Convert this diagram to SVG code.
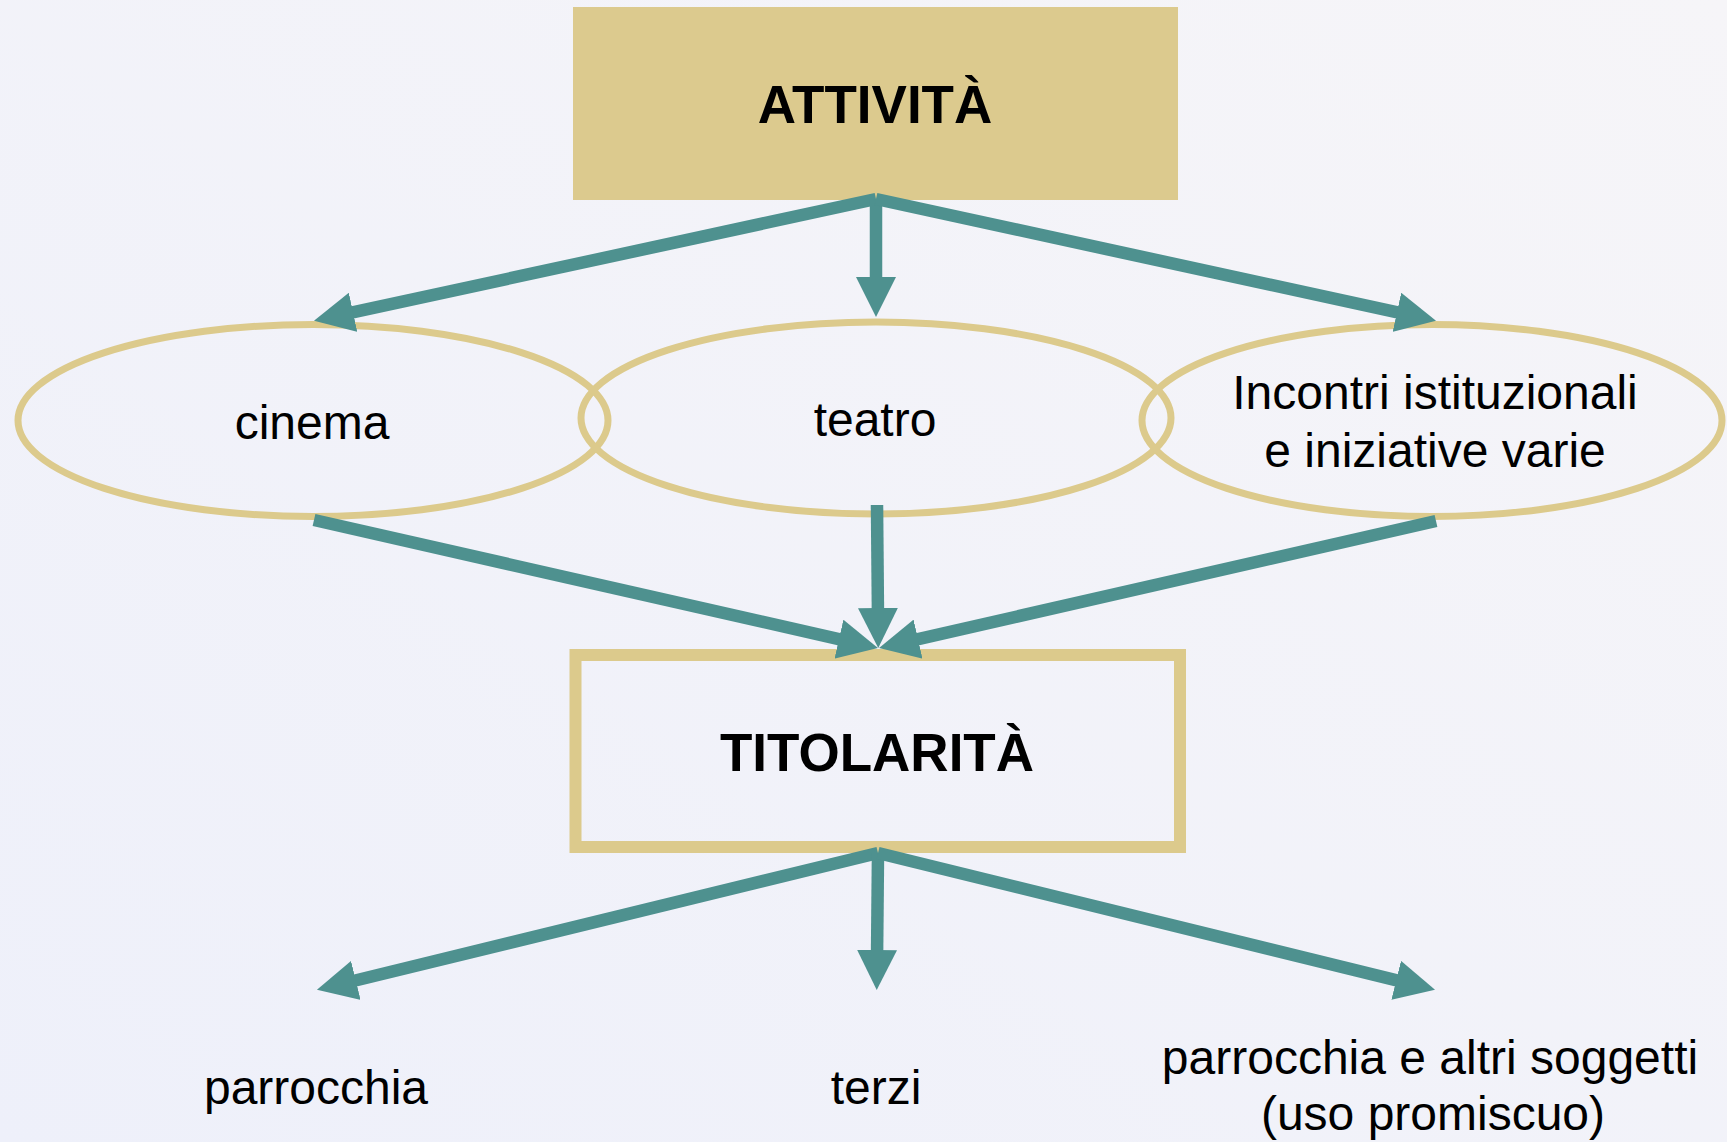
<svg xmlns="http://www.w3.org/2000/svg" width="1727" height="1142" viewBox="0 0 1727 1142">
<defs>
<linearGradient id="bg" x1="1" y1="0" x2="0" y2="1">
<stop offset="0" stop-color="#F6F5F8"/>
<stop offset="1" stop-color="#EEF0FA"/>
</linearGradient>
<marker id="ah" markerUnits="userSpaceOnUse" markerWidth="40" markerHeight="40" viewBox="0 0 40 40" refX="10" refY="20" orient="auto">
<path d="M0,0 L40,20 L0,40 z" fill="#4E918F"/>
</marker>
<style>
.ell{fill:none;stroke:#DCCA8C;stroke-width:7}
.reg{font-family:"Liberation Sans",Arial,sans-serif;font-size:48px;fill:#000;text-anchor:middle}
.bold{font-family:"Liberation Sans",Arial,sans-serif;font-size:53px;font-weight:bold;fill:#000;text-anchor:middle}
.con line{stroke:#4E918F;stroke-width:12.5;fill:none;marker-end:url(#ah)}
</style>
</defs>
<rect x="0" y="0" width="1727" height="1142" fill="url(#bg)"/>
<g id="attivita">
<rect x="573" y="7" width="605" height="193" fill="#DCCA8E"/>
<text class="bold" x="875" y="123">ATTIVITÀ</text>
</g>
<g id="cinema">
<ellipse class="ell" cx="313" cy="420.5" rx="295" ry="96"/>
<text class="reg" x="312" y="439">cinema</text>
</g>
<g id="teatro">
<ellipse class="ell" cx="876" cy="418" rx="295" ry="96"/>
<text class="reg" x="875" y="436">teatro</text>
</g>
<g id="incontri">
<ellipse class="ell" cx="1432" cy="420.5" rx="290" ry="96"/>
<text class="reg" x="1435" y="409">Incontri istituzionali</text>
<text class="reg" x="1435" y="467">e iniziative varie</text>
</g>
<g id="titolarita">
<rect x="575.5" y="655" width="604.5" height="192" fill="none" stroke="#DCCA8C" stroke-width="12"/>
<text class="bold" x="877" y="771">TITOLARITÀ</text>
</g>
<g id="parrocchia">
<text class="reg" x="316" y="1104">parrocchia</text>
</g>
<g id="terzi">
<text class="reg" x="876" y="1104">terzi</text>
</g>
<g id="promiscuo">
<text class="reg" x="1430" y="1074">parrocchia e altri soggetti</text>
<text class="reg" x="1433" y="1130">(uso promiscuo)</text>
</g>
<g id="connectors" class="con">
<line x1="876" y1="199" x2="343.3" y2="314.4"/>
<line x1="876" y1="199" x2="876" y2="287"/>
<line x1="876" y1="199" x2="1406.7" y2="314.4"/>
<line x1="314" y1="520" x2="848.7" y2="641.4"/>
<line x1="877" y1="505" x2="878" y2="618"/>
<line x1="1436" y1="521" x2="908.3" y2="641.3"/>
<line x1="878" y1="853" x2="346.1" y2="982.7"/>
<line x1="878" y1="853" x2="877" y2="960"/>
<line x1="878" y1="853" x2="1405.9" y2="982.6"/>
</g>
</svg>
